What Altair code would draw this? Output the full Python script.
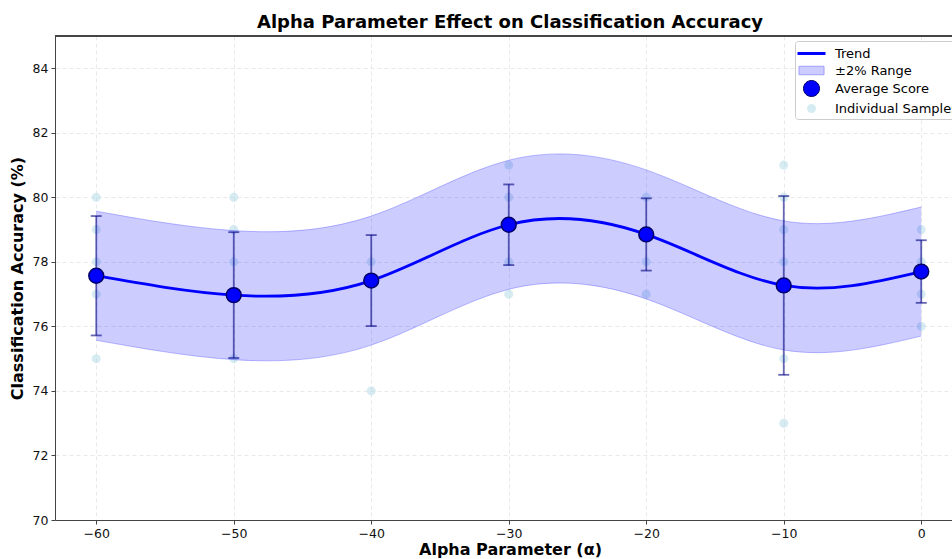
import altair as alt
import pandas as pd

# ---- data ----
alphas = [-60, -50, -40, -30, -20, -10, 0]
avg_scores = [77.57, 76.97, 77.42, 79.15, 78.85, 77.27, 77.70]
std_scores = [1.85, 1.95, 1.41, 1.25, 1.12, 2.77, 0.97]
band_half = 2.0

sample_alpha = [-60] * 5 + [-50] * 4 + [-40] * 2 + [-30] * 4 + [-20] * 3 + [-10] * 6 + [0] * 4
sample_score = [80, 79, 78, 77, 75,
                80, 79, 78, 75,
                78, 74,
                81, 80, 78, 77,
                80, 78, 77,
                81, 80, 79, 78, 75, 73,
                79, 78, 77, 76]

x_ticks = [-60, -50, -40, -30, -20, -10, 0]
y_ticks = [70, 72, 74, 76, 78, 80, 82, 84]

legend_labels = ["Trend", "±2% Range", "Average Score", "Individual Samples"]
legend_fill = ["#0000ff", "#ccccff", "#0000ff", "#d6ecf3"]
legend_stroke = ["transparent", "#9f9fff", "#000066", "transparent"]
legend_shapes = [
    "M-1.556,-0.17H1.556V0.17H-1.556Z",
    "M-1.39,-0.47H1.39V0.47H-1.39Z",
    "M-0.89,0A0.89,0.89,0,1,1,0.89,0A0.89,0.89,0,1,1,-0.89,0Z",
    "M-0.5,0A0.5,0.5,0,1,1,0.5,0A0.5,0.5,0,1,1,-0.5,0Z",
]

avg_df = pd.DataFrame({"alpha": alphas, "score": avg_scores, "std": std_scores})
samp_df = pd.DataFrame({"alpha": sample_alpha, "score": sample_score})

FONT = "DejaVu Sans"
W, H = 897, 484
xscale = alt.Scale(domain=[-63, 2.236], nice=False, zero=False)
yscale = alt.Scale(domain=[70, 85], nice=False, zero=False)

xaxis = alt.Axis(values=x_ticks, format="d", title="Alpha Parameter (α)",
                 titleFontSize=16, titleFontWeight="bold", titleColor="black",
                 titleX=455, titlePadding=2,
                 labelFontSize=12.5, labelColor="#111", labelPadding=3,
                 tickSize=4, tickColor="#444", domainColor="#444",
                 grid=True, gridColor="#e3e3e3", gridDash=[4, 3], gridWidth=0.8)
yaxis = alt.Axis(values=y_ticks, title="Classification Accuracy (%)",
                 titleFontSize=16, titleFontWeight="bold", titleColor="black",
                 titlePadding=7,
                 labelFontSize=12.5, labelColor="#111", labelPadding=3,
                 tickSize=4, tickColor="#444", domainColor="#444",
                 grid=True, gridColor="#e3e3e3", gridDash=[4, 3], gridWidth=0.8)


def X(field="alpha"):
    return alt.X(f"{field}:Q", scale=xscale, axis=xaxis)


def Y(field):
    return alt.Y(f"{field}:Q", scale=yscale, axis=yaxis)


samples = alt.Chart(samp_df).mark_circle(size=81, color="#add8e6", opacity=0.5).encode(
    x=X(), y=Y("score"),
)

banded = alt.Chart(avg_df).transform_calculate(
    lo=f"datum.score - {band_half}", hi=f"datum.score + {band_half}"
)
band = banded.mark_area(interpolate="natural", color="#0000ff", fillOpacity=0.2).encode(
    x=X(), y=Y("lo"), y2="hi:Q",
)
band_lo = banded.mark_line(interpolate="natural", color="#0000ff", opacity=0.25, strokeWidth=1).encode(
    x=X(), y=Y("lo"),
)
band_hi = banded.mark_line(interpolate="natural", color="#0000ff", opacity=0.25, strokeWidth=1).encode(
    x=X(), y=Y("hi"),
)

trend = alt.Chart(avg_df).mark_line(interpolate="natural", color="#0000ff", strokeWidth=2.8).encode(
    x=X(), y=Y("score"),
)

err = alt.Chart(avg_df).transform_calculate(
    elo="datum.score - datum.std", ehi="datum.score + datum.std"
)
err_rule = err.mark_rule(color="#000080", opacity=0.6, strokeWidth=1.8).encode(
    x=X(), y=Y("elo"), y2="ehi:Q",
)
cap_lo = err.mark_tick(color="#000080", opacity=0.6, orient="horizontal", size=11, thickness=1.8).encode(
    x=X(), y=Y("elo"),
)
cap_hi = err.mark_tick(color="#000080", opacity=0.6, orient="horizontal", size=11, thickness=1.8).encode(
    x=X(), y=Y("ehi"),
)

avg_pts = alt.Chart(avg_df).mark_point(filled=True, size=220, fill="#0000ff", stroke="#000066",
                                       strokeWidth=1.5, opacity=1).encode(
    x=X(), y=Y("score"),
)

# top spine of the frame
top_spine = alt.Chart(avg_df).mark_rule(color="#444", strokeWidth=1).encode(
    x=alt.value(0), x2=alt.value(W), y=alt.value(0)
)

leg = alt.Legend(title=None, orient="none", legendX=740, legendY=5,
                 symbolSize=324, symbolOffset=4, labelOffset=14, padding=3,
                 rowPadding=0, fillColor="white", strokeColor="#cccccc", cornerRadius=3,
                 labelFontSize=13, labelFont=FONT, labelColor="black",
                 symbolStrokeWidth=1, symbolOpacity=1)
legend_layer = alt.Chart(alt.Data(values=[])).mark_point(filled=True).encode(
    fill=alt.Fill("label:N", scale=alt.Scale(domain=legend_labels, range=legend_fill), legend=leg),
    stroke=alt.Stroke("label:N", scale=alt.Scale(domain=legend_labels, range=legend_stroke), legend=leg),
    shape=alt.Shape("label:N", scale=alt.Scale(domain=legend_labels, range=legend_shapes), legend=leg),
)

chart = alt.layer(
    samples, band, band_lo, band_hi, trend, err_rule, cap_lo, cap_hi, avg_pts, top_spine, legend_layer
).properties(
    width=W, height=H,
    padding={"left": 55, "top": 36, "right": 0, "bottom": 39},
    autosize=alt.AutoSizeParams(type="none"),
    title=alt.TitleParams("Alpha Parameter Effect on Classification Accuracy",
                          fontSize=18, fontWeight="bold", anchor="middle", dx=6.5,
                          offset=4, font=FONT, color="black"),
).configure(
    font=FONT, background="white"
).configure_view(stroke=None)

chart.save("out.html", embed_options={"renderer": "svg", "actions": False})
